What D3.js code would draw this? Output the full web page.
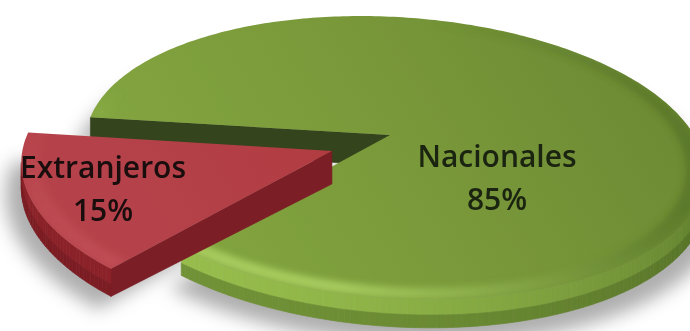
<!DOCTYPE html>
<html>
<head>
<meta charset="utf-8">
<script src="https://cdn.jsdelivr.net/npm/d3@7"></script>
<style>
  body { margin: 0; background: #fff; }
  svg { display: block; }
</style>
</head>
<body>
<svg id="chart"></svg>
<script>
// data
const categories = ["Nacionales", "Extranjeros"];
const values = [85, 15];
const explode = [0, 0.23];

const width = 690, height = 331;
const deg = Math.PI / 180;

// look of each slice
const palette = [
  { top: "#7a993a", topLight: "#83a540", topDark: "#6d8b34", cut: "#34441c",
    wallLight: "#97bd4c", wallDark: "#4b6621", bevelLight: "#b6db6a", bevelDark: "#4a6620", text: "#1b2410" },
  { top: "#b03a3f", topLight: "#b5424a", topDark: "#a9373c", cut: "#7b1e25",
    wallLight: "#8c2229", wallDark: "#6c171d", bevelLight: "#c4525a", bevelDark: "#8c2a30", text: "#1a0d0d" }
];

// perspective view of the pie plane (camera a bit left of the pie centre)
const cx = 390, cy = 135, R = 304, Rk = 138, persp = 0.16, camShift = 0.7, thick = 24;
const camV = 1 / persp;
const explodeTurn = -10 * deg; // pull-out direction relative to the slice bisector

function project(u, v, z) {
  const p = 1 / (1 - persp * v);
  return [cx + R * (u * p + camShift * (p - 1)), cy + (Rk * v + thick * z) * p];
}
function facing(u, v, nx, ny) {
  return (-camShift - u) * nx + (camV - v) * ny > 0;
}
const poly = pts => "M" + pts.map(p => p.join(",")).join("L") + "Z";

const svg = d3.select("#chart").attr("width", width).attr("height", height);
const defs = svg.append("defs");
defs.append("filter").attr("id", "shadowBlur")
  .attr("x", "-20%").attr("y", "-20%").attr("width", "140%").attr("height", "140%")
  .append("feGaussianBlur").attr("stdDeviation", 9);
defs.append("filter").attr("id", "bevelBlur")
  .attr("x", "-10%").attr("y", "-10%").attr("width", "120%").attr("height", "120%")
  .append("feGaussianBlur").attr("stdDeviation", 3);

const pie = d3.pie().sort(null).startAngle(-82.5 * deg).endAngle(277.5 * deg);
const arcs = pie(values);

const slices = arcs.map((a, i) => {
  const t0 = a.startAngle - Math.PI / 2, t1 = a.endAngle - Math.PI / 2;
  const mid = (t0 + t1) / 2 + explodeTurn;
  const ox = explode[i] * Math.cos(mid), oy = explode[i] * Math.sin(mid);
  const n = Math.ceil((t1 - t0) / deg);
  const ts = d3.range(n + 1).map(j => t0 + (t1 - t0) * j / n);
  const rim = ts.map(t => ({ t, u: ox + Math.cos(t), v: oy + Math.sin(t) }));
  return { i, t0, t1, ox, oy, rim, name: categories[i], value: values[i] };
});

// shadow under the whole pie
const shadow = svg.append("g").attr("filter", "url(#shadowBlur)").attr("opacity", 0.7);
slices.forEach(s => {
  const pts = [project(s.ox, s.oy, 1)].concat(s.rim.map(r => {
    const q = project(s.ox + (r.u - s.ox) * 1.05, s.oy + (r.v - s.oy) * 1.05, 1);
    return [q[0], q[1] + 6];
  }));
  shadow.append("path").attr("d", poly(pts)).attr("fill", "#8c8c8c");
});

slices.forEach(s => {
  const col = palette[s.i];
  const g = svg.append("g").attr("class", "slice");

  // cut faces (drawn a little deep at the centre; the top face hides what is past the other edge)
  const c0 = project(s.ox, s.oy, 0), c1 = project(s.ox, s.oy, 1.35);
  const first = s.rim[0], last = s.rim[s.rim.length - 1];
  if (facing(s.ox, s.oy, Math.sin(s.t0), -Math.cos(s.t0))) {
    g.append("path")
      .attr("d", poly([c0, project(first.u, first.v, 0), project(first.u, first.v, 1), c1]))
      .attr("fill", col.cut).attr("stroke", col.cut).attr("stroke-width", 0.6);
  }
  if (facing(s.ox, s.oy, -Math.sin(s.t1), Math.cos(s.t1))) {
    g.append("path")
      .attr("d", poly([c0, project(last.u, last.v, 0), project(last.u, last.v, 1), project(s.ox, s.oy, 1)]))
      .attr("fill", col.cut).attr("stroke", col.cut).attr("stroke-width", 0.6);
  }

  // outer wall, shaded by angle, darker toward its lower edge
  const shade = d3.interpolateRgb(col.wallLight, col.wallDark);
  const wall = g.append("g");
  for (let j = 0; j < s.rim.length - 1; j++) {
    const a = s.rim[j], b = s.rim[j + 1];
    const tm = (a.t + b.t) / 2;
    if (!facing((a.u + b.u) / 2, (a.v + b.v) / 2, Math.cos(tm), Math.sin(tm))) continue;
    const k = (1 - Math.cos(tm - 140 * deg)) / 2;
    const c = shade(k);
    const pa0 = project(a.u, a.v, 0), pb0 = project(b.u, b.v, 0);
    const pa1 = project(a.u, a.v, 1), pb1 = project(b.u, b.v, 1);
    const pam = project(a.u, a.v, 0.55), pbm = project(b.u, b.v, 0.55);
    wall.append("path").attr("d", poly([pa0, pb0, pbm, pam]))
      .attr("fill", c).attr("stroke", c).attr("stroke-width", 0.6);
    const c2 = d3.interpolateRgb(c, col.wallDark)(0.5);
    wall.append("path").attr("d", poly([pam, pbm, pb1, pa1]))
      .attr("fill", c2).attr("stroke", c2).attr("stroke-width", 0.6);
  }

  // top face
  const topPts = [c0].concat(s.rim.map(r => project(r.u, r.v, 0)));
  const gid = "topGrad" + s.i;
  const grad = defs.append("linearGradient").attr("id", gid)
    .attr("gradientUnits", "userSpaceOnUse")
    .attr("x1", 620).attr("y1", 40).attr("x2", 200).attr("y2", 300);
  grad.append("stop").attr("offset", 0).attr("stop-color", col.topDark);
  grad.append("stop").attr("offset", 0.5).attr("stop-color", col.top);
  grad.append("stop").attr("offset", 1).attr("stop-color", col.topLight);
  g.append("path").attr("d", poly(topPts)).attr("fill", `url(#${gid})`);

  // soft bevel along the rim
  const cid = "topClip" + s.i;
  defs.append("clipPath").attr("id", cid).append("path").attr("d", poly(topPts));
  const bevel = g.append("g").attr("clip-path", `url(#${cid})`)
    .append("g").attr("filter", "url(#bevelBlur)");
  for (let j = 0; j < s.rim.length - 1; j++) {
    const a = s.rim[j], b = s.rim[j + 1];
    const tm = (a.t + b.t) / 2;
    const lightW = Math.pow(Math.max(0, Math.cos(tm - 115 * deg)), 1.5);
    const darkW = Math.max(0, Math.cos(tm - 15 * deg));
    const inner = 0.94;
    const q = [
      project(a.u, a.v, 0), project(b.u, b.v, 0),
      project(s.ox + (b.u - s.ox) * inner, s.oy + (b.v - s.oy) * inner, 0),
      project(s.ox + (a.u - s.ox) * inner, s.oy + (a.v - s.oy) * inner, 0)
    ];
    if (lightW > 0.02) bevel.append("path").attr("d", poly(q)).attr("fill", col.bevelLight).attr("opacity", lightW * 0.75);
    if (darkW > 0.02) bevel.append("path").attr("d", poly(q)).attr("fill", col.bevelDark).attr("opacity", darkW * 0.5);
  }
});

// labels
const labelAt = [[497, 167], [103, 178]];
slices.forEach(s => {
  const t = svg.append("text")
    .attr("x", labelAt[s.i][0]).attr("y", labelAt[s.i][1])
    .attr("text-anchor", "middle")
    .attr("font-family", "'Open Sans', sans-serif")
    .attr("font-weight", 600)
    .attr("font-size", 30)
    .attr("fill", palette[s.i].text);
  t.append("tspan").attr("x", labelAt[s.i][0]).text(s.name);
  t.append("tspan").attr("x", labelAt[s.i][0]).attr("dy", 43).text(s.value + "%");
});
</script>
</body>
</html>
